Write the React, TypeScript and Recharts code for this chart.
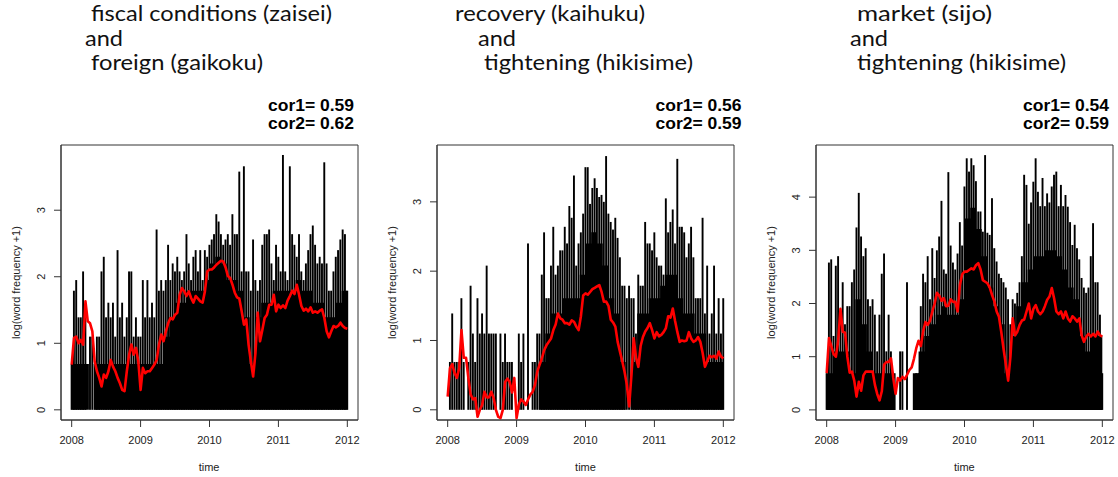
import React from 'react'
import { ComposedChart, XAxis, YAxis, Bar, Area, Line, ReferenceArea } from 'recharts'

// sampling grid: spikes and smoothed curve every 1/30 year, dense level monthly
const START_YEAR = 2008
const STEPS_PER_YEAR = 30
const YEAR_TICKS = [2008, 2009, 2010, 2011, 2012]

// fiscal conditions (zaisei) and foreign (gaikoku)
const zaiseiSpike = [
  0.69, 1.79, 1.95, 1.39, 1.39, 2.08, 1.39, 0, 1.1, 1.1,
  0.69, 1.1, 1.1, 2.08, 2.3, 1.39, 1.61, 1.39, 1.61, 1.1,
  2.4, 1.39, 1.61, 1.1, 1.39, 2.08, 2.08, 1.1, 1.39, 1.1,
  1.1, 1.95, 1.39, 1.95, 1.39, 1.61, 1.39, 2.71, 1.79, 1.95,
  1.79, 1.95, 2.48, 1.95, 2.2, 2.08, 2.3, 2.08, 1.95, 2.08,
  2.64, 2.2, 1.95, 2.3, 2.4, 2.08, 2.4, 1.95, 2.4, 2.3,
  2.48, 2.56, 2.64, 2.94, 2.83, 2.64, 2.48, 2.56, 2.64, 2.48,
  2.94, 2.64, 2.64, 3.58, 2.08, 3.66, 2.08, 2.08, 1.79, 2.56,
  1.95, 1.79, 1.95, 2.48, 2.64, 2.64, 2.71, 2.2, 1.95, 2.48,
  2.3, 2.08, 3.83, 2.08, 1.95, 3.66, 2.64, 2.48, 2.3, 2.64,
  2.08, 1.95, 2.2, 2.4, 2.64, 2.77, 2.48, 2.2, 2.3, 2.2,
  3.72, 2.2, 1.79, 1.79, 2.08, 2.3, 2.4, 2.56, 2.71, 2.64,
  1.79,
]
const zaiseiBase = [
  0.69, 0.69, 0.69, 0, 0.69, 0.69, 0.69, 0.69, 0.69, 0.69, 0.69, 0.69,
  0.69, 0.69, 0.69, 0.69, 1.1, 1.39, 1.61, 1.61, 1.79, 1.79, 1.79, 1.95,
  2.2, 2.3, 2.2, 1.95, 1.95, 1.79, 1.39, 0.69, 1.39, 1.61, 1.61, 1.79,
  1.79, 1.79, 1.79, 1.95, 1.79, 1.79, 1.61, 1.61, 1.39, 1.39, 1.61, 1.79,
  1.79,
]
const zaiseiSmooth = [
  0.68, 1.08, 1.1, 1.0, 1.05, 0.98, 1.63, 1.33, 1.3, 1.18,
  0.73, 0.58, 0.48, 0.35, 0.53, 0.48, 0.58, 0.75, 0.65, 0.58,
  0.48, 0.4, 0.3, 0.28, 0.58, 0.83, 0.98, 0.83, 0.93, 0.73,
  0.3, 0.63, 0.55, 0.58, 0.58, 0.63, 0.68, 0.75, 0.98, 1.13,
  1.03, 1.18, 1.3, 1.38, 1.36, 1.43, 1.46, 1.73, 1.83, 1.78,
  1.71, 1.78, 1.68, 1.61, 1.71, 1.67, 1.63, 1.61, 1.78, 2.08,
  2.11, 2.11, 2.14, 2.18, 2.21, 2.24, 2.23, 2.14, 2.01, 1.98,
  1.88, 1.76, 1.69, 1.67, 1.48, 1.28, 1.36, 0.98, 0.73, 0.5,
  0.85, 1.46, 1.03, 1.2, 1.38, 1.43, 1.58, 1.58, 1.73, 1.48,
  1.58, 1.53, 1.57, 1.53, 1.64, 1.71, 1.79, 1.74, 1.88, 1.73,
  1.56, 1.49, 1.52, 1.48, 1.54, 1.46, 1.48, 1.46, 1.49, 1.51,
  1.38, 1.18, 1.09, 1.18, 1.26, 1.24, 1.26, 1.31, 1.26, 1.23,
  1.22,
]

// recovery (kaihuku) and tightening (hikisime)
const kaihukuSpike = [
  0, 0.69, 1.39, 0.69, 0.69, 0.69, 1.61, 0.69, 0, 0.69,
  1.79, 1.1, 0.69, 1.61, 1.1, 1.39, 1.1, 2.08, 1.1, 1.1,
  1.1, 1.1, 0, 1.1, 0.69, 1.1, 0.69, 0.69, 0.69, 0,
  0, 1.1, 0.69, 1.1, 0, 2.4, 0, 0.69, 0.69, 1.1,
  1.1, 1.95, 2.56, 1.61, 1.61, 2.08, 2.64, 1.95, 2.08, 2.3,
  2.3, 2.64, 2.4, 2.94, 2.77, 3.38, 2.08, 2.4, 2.56, 2.83,
  3.5, 3.5, 2.97, 3.2, 3.34, 3.2, 3.07, 3.1, 3.0, 3.66,
  2.83, 2.71, 2.6, 2.77, 2.48, 2.2, 1.79, 1.79, 1.61, 1.79,
  1.61, 1.61, 1.1, 1.95, 1.79, 1.79, 2.71, 2.4, 2.4, 2.3,
  2.56, 2.2, 2.08, 2.08, 1.95, 3.05, 2.56, 2.71, 2.89, 2.4,
  3.62, 2.64, 2.64, 2.56, 2.2, 2.4, 2.64, 2.2, 1.61, 1.61,
  1.61, 2.77, 1.39, 2.08, 1.1, 1.39, 2.08, 1.1, 1.61, 1.1,
  1.61,
]
const kaihukuBase = [
  0, 0, 0, 0, 0, 0, 0, 0, 0, 0, 0, 0,
  0, 0, 0, 0, 0.69, 1.1, 1.39, 1.39, 1.61, 1.61, 1.61, 1.95,
  2.4, 2.56, 2.4, 2.08, 1.61, 1.39, 0.69, 0, 0.69, 1.39, 1.39, 1.61,
  1.61, 1.79, 1.95, 1.95, 1.61, 1.39, 1.39, 1.1, 1.1, 0.69, 0.69, 0.69,
  0.69,
]
const kaihukuSmooth = [
  0.19, 0.6, 0.66, 0.53, 0.46, 0.6, 1.15, 0.75, 0.75, 0.46,
  0.22, 0.15, 0.17, -0.1, 0.0, 0.07, 0.26, 0.18, 0.18, 0.26,
  0.17, 0.0, -0.1, -0.12, 0.0, 0.4, 0.45, 0.4, 0.25, 0.46,
  -0.12, 0.08, 0.15, 0.12, 0.07, 0.15, 0.22, 0.26, 0.36, 0.55,
  0.65, 0.74, 0.86, 0.93, 0.98, 1.03, 1.15, 1.23, 1.39, 1.32,
  1.3, 1.25, 1.25, 1.23, 1.29, 1.27, 1.2, 1.15, 1.35, 1.65,
  1.68, 1.66, 1.7, 1.74, 1.76, 1.78, 1.8, 1.7, 1.56, 1.56,
  1.5, 1.3, 1.26, 1.2, 0.98, 0.84, 0.7, 0.55, 0.36, 0.05,
  0.5, 1.03, 0.75, 0.62, 0.92, 1.05, 1.13, 1.18, 1.25, 1.15,
  1.03, 1.12, 1.06, 1.08, 1.12, 1.18, 1.35, 1.33, 1.46, 1.28,
  1.12, 0.98, 1.0, 0.99, 1.0, 1.12, 1.03, 0.98, 1.0, 1.05,
  0.98, 0.82, 0.62, 0.7, 0.78, 0.76, 0.78, 0.74, 0.84, 0.77,
  0.74,
]

// market (sijo) and tightening (hikisime)
const sijoSpike = [
  0.69, 2.77, 2.83, 1.39, 2.71, 2.89, 1.79, 2.4, 1.61, 1.95,
  1.95, 2.4, 2.64, 3.43, 4.08, 3.26, 2.89, 3.04, 2.08, 1.95,
  2.08, 1.79, 1.1, 1.79, 2.56, 2.94, 1.1, 1.79, 1.1, 0.69,
  0, 0, 1.1, 1.1, 0, 2.4, 0, 0, 0, 0.69,
  0.69, 1.95, 2.56, 2.4, 2.89, 2.08, 3.04, 2.48, 3.0, 3.26,
  3.93, 2.64, 2.56, 4.47, 3.09, 2.77, 2.64, 2.94, 3.53, 3.09,
  4.2, 4.73, 4.48, 4.73, 4.6, 4.3, 3.73, 3.73, 3.35, 4.79,
  3.33, 3.29, 3.98, 3.04, 2.79, 2.56, 2.48, 2.4, 2.3, 2.08,
  1.61, 2.08, 2.0, 2.2, 2.4, 2.89, 4.42, 4.23, 3.5, 3.9,
  4.29, 4.73, 4.1, 3.83, 4.36, 3.83, 4.07, 3.9, 4.2, 4.42,
  4.48, 3.83, 4.23, 3.83, 4.04, 3.82, 3.53, 3.1, 3.48, 3.04,
  2.83, 2.48, 2.3, 2.2, 2.3, 2.89, 3.51, 2.4, 2.4, 1.79,
  0.69,
]
const sijoBase = [
  0.69, 1.1, 1.1, 1.1, 0.69, 2.08, 1.61, 1.1, 0.69, 0.69, 0.69, 0.69,
  0, 0, 0, 0.69, 1.1, 1.39, 1.61, 1.79, 1.95, 1.79, 1.79, 2.08,
  3.6, 3.8, 3.4, 2.89, 2.3, 1.95, 1.61, 0.69, 1.39, 1.95, 2.4, 2.64,
  2.89, 2.89, 3.0, 3.0, 2.89, 2.64, 2.3, 2.08, 1.39, 1.1, 1.39, 1.39,
  1.39,
]
const sijoSmooth = [
  0.69, 1.35, 1.2, 1.05, 1.0, 1.3, 1.9, 1.47, 1.45, 1.0,
  0.7, 0.72, 0.55, 0.25, 0.53, 0.36, 0.65, 0.72, 0.72, 0.72,
  0.72, 0.47, 0.3, 0.18, 0.35, 0.85, 0.9, 0.9, 0.97, 0.6,
  0.3, 0.6, 0.55, 0.62, 0.58, 0.66, 0.75, 0.8, 0.96, 1.16,
  1.3, 1.2, 1.48, 1.65, 1.6, 1.68, 1.85, 2.0, 2.2, 2.15,
  2.05, 2.1, 1.95, 1.96, 2.08, 2.03, 2.03, 1.85, 2.35, 2.55,
  2.6, 2.6, 2.63, 2.66, 2.64, 2.72, 2.76, 2.64, 2.44, 2.41,
  2.38, 2.3, 2.16, 2.04, 1.85, 1.75, 1.47, 1.15, 0.85, 0.55,
  1.0, 1.72, 1.4, 1.47, 1.6, 1.68, 1.7, 1.85, 2.0, 1.72,
  1.9, 1.97, 1.85, 1.8, 1.85, 1.95, 2.07, 2.13, 2.29, 2.1,
  1.85, 1.8, 1.85, 1.72, 1.85, 1.72, 1.66, 1.76, 1.72, 1.66,
  1.72, 1.4, 1.28, 1.38, 1.43, 1.38, 1.43, 1.38, 1.47, 1.4,
  1.38,
]

const PLOT_W = 297
const PLOT_TOP = 145
const PLOT_BOTTOM = 420
const AXIS_W = 61
const SPIKE_W = 1.9
const X_DOMAIN: [number, number] = [2007.845, 2012.155]
const AXIS_FONT = '"Liberation Sans", Arial, sans-serif'
const TITLE_FONT = 'Lato, "Open Sans", sans-serif'

const panels = [
  {
    key: 'zaisei',
    plotLeft: 60.6,
    spike: zaiseiSpike, base: zaiseiBase, smooth: zaiseiSmooth,
    yDomain: [-0.153, 3.98], yTicks: [0, 1, 2, 3],
    cor: ['cor1= 0.59', 'cor2= 0.62'], corRight: 354,
    title: [
      { text: 'fiscal conditions (zaisei)', x: 91, w: 241 },
      { text: 'and', x: 85, w: 38 },
      { text: 'foreign (gaikoku)', x: 91, w: 172 },
    ],
  },
  {
    key: 'kaihuku',
    plotLeft: 437,
    spike: kaihukuSpike, base: kaihukuBase, smooth: kaihukuSmooth,
    yDomain: [-0.147, 3.82], yTicks: [0, 1, 2, 3],
    cor: ['cor1= 0.56', 'cor2= 0.59'], corRight: 741.5,
    title: [
      { text: 'recovery (kaihuku)', x: 455, w: 190 },
      { text: 'and', x: 478, w: 38 },
      { text: 'tightening (hikisime)', x: 484, w: 209 },
    ],
  },
  {
    key: 'sijo',
    plotLeft: 815.8,
    spike: sijoSpike, base: sijoBase, smooth: sijoSmooth,
    yDomain: [-0.19, 4.98], yTicks: [0, 1, 2, 3, 4],
    cor: ['cor1= 0.54', 'cor2= 0.59'], corRight: 1109,
    title: [
      { text: 'market (sijo)', x: 857, w: 135 },
      { text: 'and', x: 850, w: 38 },
      { text: 'tightening (hikisime)', x: 857, w: 209 },
    ],
  },
]

const XTick = (props: any) => {
  const { x, y, payload } = props
  return (
    <text x={x} y={y + 15} textAnchor="middle" fontSize={11} fill="#222" fontFamily={AXIS_FONT}>
      {payload.value}
    </text>
  )
}

const YTick = (props: any) => {
  const { x, y, payload } = props
  const bx = x - 6.5
  return (
    <text x={bx} y={y} transform={`rotate(-90 ${bx} ${y})`} textAnchor="middle" fontSize={11} fill="#222" fontFamily={AXIS_FONT}>
      {payload.value}
    </text>
  )
}

// vertical "h"-type line, centred on the bar's own x position
const SpikeShape = (props: any) => {
  const { x, y, width, height } = props
  if (!height || height <= 0) return null
  return <rect x={x + width / 2 - SPIKE_W / 2} y={y} width={SPIKE_W} height={height} fill="#000" />
}

function Panel({ p }: { p: (typeof panels)[number] }) {
  const rows = p.spike.map((v, i) => ({
    t: START_YEAR + i / STEPS_PER_YEAR,
    spike: v,
    smooth: p.smooth[i],
  }))
  const baseRows = p.base.map((v, m) => ({ t: START_YEAR + m / 12, base: v }))
  const [y0, y1] = p.yDomain

  return (
    <div style={{ position: 'absolute', left: p.plotLeft - AXIS_W, top: 0 }}>
      <ComposedChart
        width={AXIS_W + PLOT_W + 6}
        height={477}
        data={rows}
        margin={{ top: PLOT_TOP, right: 6, bottom: 0, left: 0 }}
      >
        <XAxis
          type="number"
          dataKey="t"
          domain={X_DOMAIN}
          ticks={YEAR_TICKS}
          allowDataOverflow
          height={477 - PLOT_BOTTOM}
          tickSize={7}
          tick={<XTick />}
          stroke="#333"
        />
        <YAxis
          type="number"
          domain={p.yDomain}
          ticks={p.yTicks}
          allowDataOverflow
          width={AXIS_W}
          tickSize={7}
          tick={<YTick />}
          stroke="#333"
        />
        <Area
          data={baseRows}
          dataKey="base"
          type="stepAfter"
          fill="#000"
          fillOpacity={1}
          stroke="none"
          isAnimationActive={false}
        />
        <Bar dataKey="spike" fill="#000" barSize={1} shape={<SpikeShape />} isAnimationActive={false} />
        <Line
          dataKey="smooth"
          type="linear"
          stroke="#ff0000"
          strokeWidth={2.6}
          strokeLinejoin="round"
          dot={false}
          isAnimationActive={false}
        />
        <ReferenceArea
          x1={X_DOMAIN[0]}
          x2={X_DOMAIN[1]}
          y1={y0}
          y2={y1}
          fill="none"
          stroke="#333"
          strokeWidth={1}
          ifOverflow="visible"
        />
      </ComposedChart>
    </div>
  )
}

export default function App() {
  return (
    <div style={{ position: 'absolute', left: 0, top: 0, width: 1118, height: 477, background: '#fff', overflow: 'hidden' }}>
      {panels.map(p => <Panel key={p.key} p={p} />)}
      <svg width={1118} height={477} style={{ position: 'absolute', left: 0, top: 0, pointerEvents: 'none' }}>
        {panels.map(p => (
          <g key={p.key}>
            {p.title.map((line, k) => (
              <text
                key={k}
                x={line.x}
                y={21 + k * 24.6}
                fontSize={22}
                fontFamily={TITLE_FONT}
                fill="#111"
                textLength={line.w}
                lengthAdjust="spacingAndGlyphs"
              >
                {line.text}
              </text>
            ))}
            {p.cor.map((c, k) => (
              <text
                key={c}
                x={p.corRight}
                y={111 + k * 18}
                textAnchor="end"
                fontSize={16}
                fontWeight="bold"
                fontFamily={AXIS_FONT}
                fill="#000"
                textLength={86}
                lengthAdjust="spacingAndGlyphs"
              >
                {c}
              </text>
            ))}
            <text
              x={p.plotLeft + PLOT_W / 2}
              y={470.5}
              textAnchor="middle"
              fontSize={11}
              fontFamily={AXIS_FONT}
              fill="#222"
            >
              time
            </text>
            <text
              transform={`translate(${p.plotLeft - 45}, ${(PLOT_TOP + PLOT_BOTTOM) / 2}) rotate(-90)`}
              textAnchor="middle"
              dominantBaseline="central"
              fontSize={11}
              fontFamily={AXIS_FONT}
              fill="#222"
            >
              log(word frequency +1)
            </text>
          </g>
        ))}
      </svg>
    </div>
  )
}
